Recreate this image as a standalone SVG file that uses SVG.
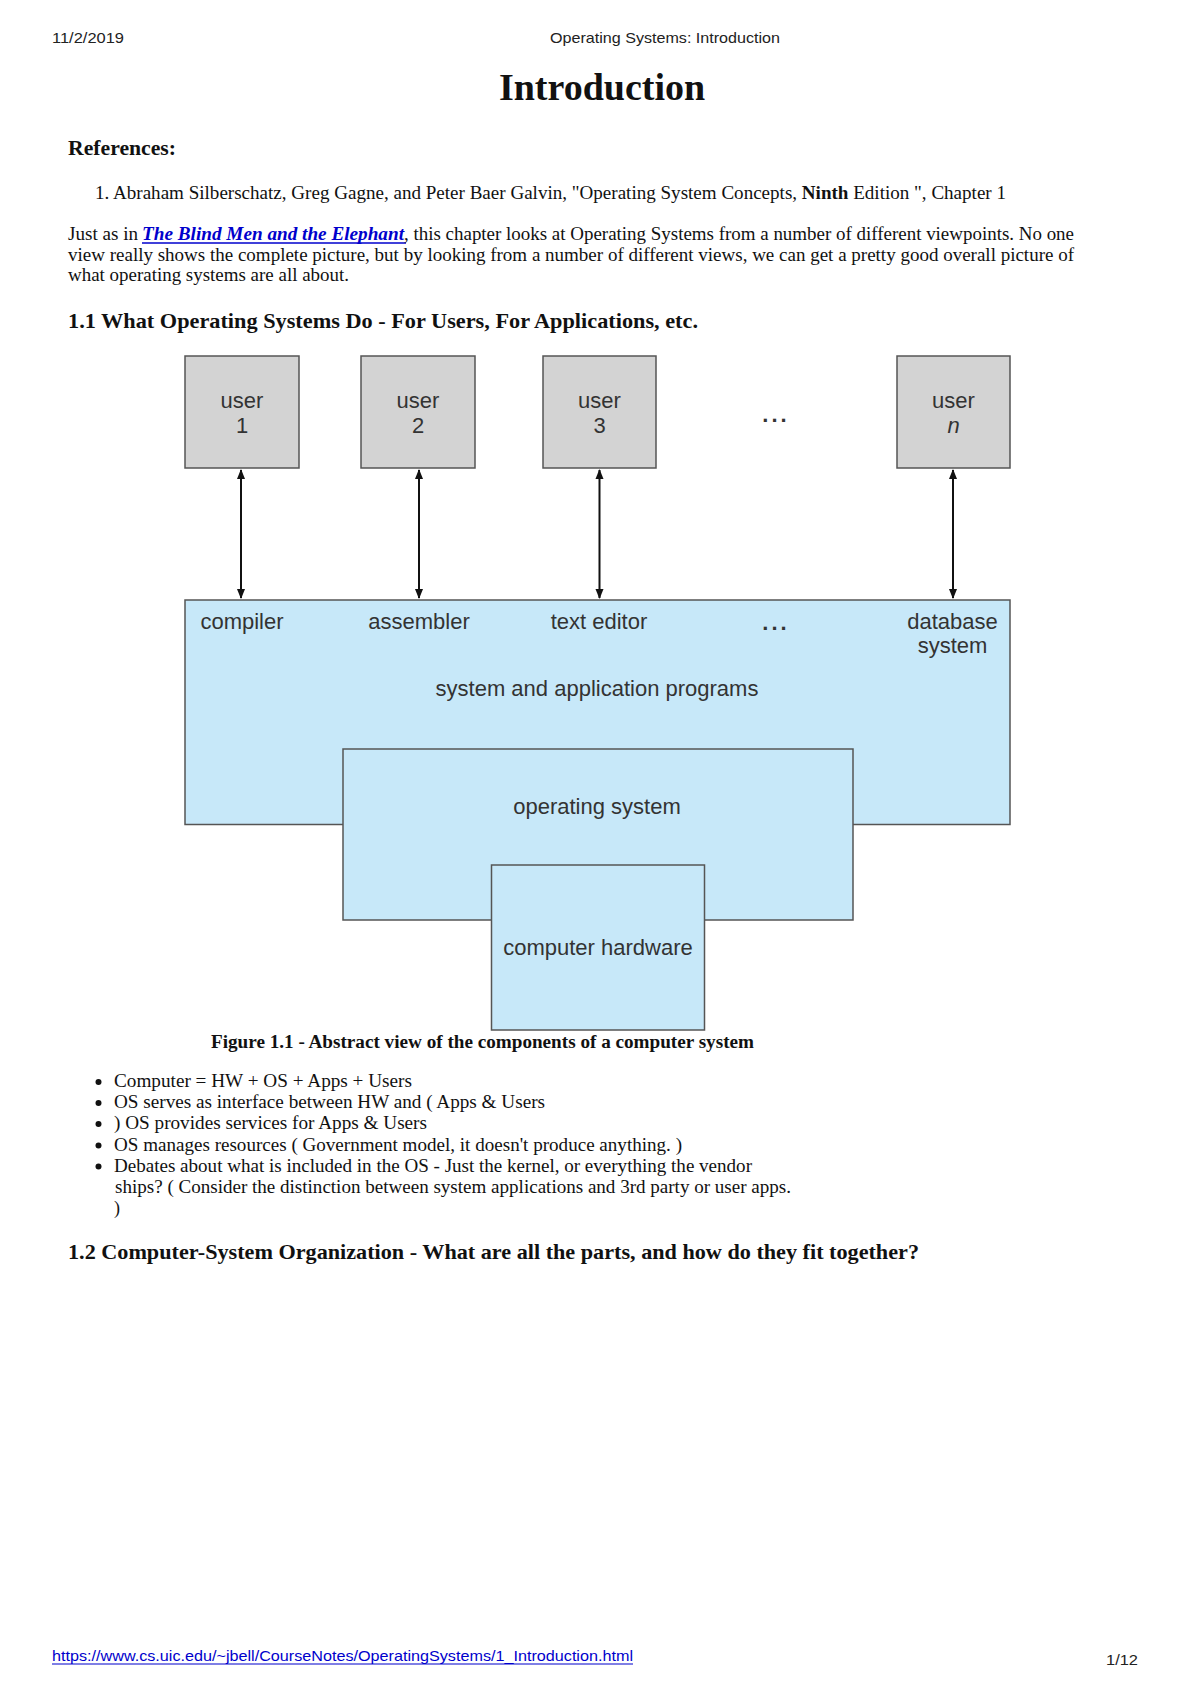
<svg xmlns="http://www.w3.org/2000/svg" width="1200" height="1698" viewBox="0 0 1200 1698">
<defs>
<style>
.hdr{font-family:"Liberation Sans",Arial,sans-serif;font-size:15px;fill:#222}
.serif{font-family:"Liberation Serif","Times New Roman",serif;fill:#111}
.body{font-size:18px}
.bold{font-weight:bold}
.fig{font-family:"Liberation Sans",Arial,sans-serif;font-size:22px;fill:#333;text-anchor:middle}
.user{fill:#d3d3d3;stroke:#555;stroke-width:1.5}
.blue{fill:#c7e8f9;stroke:#555;stroke-width:1.5}
.conn{stroke:#111;stroke-width:2;fill:none;marker-start:url(#ah);marker-end:url(#ah)}
.link{fill:#0000cc}
</style>
<marker id="ah" viewBox="0 0 10 10" refX="9" refY="5" markerWidth="5" markerHeight="5" orient="auto-start-reverse" markerUnits="strokeWidth">
<path d="M0,1 L10,5 L0,9 Z" fill="#111"/>
</marker>
</defs>
<rect width="1200" height="1698" fill="#fff"/>

<g id="page-header">
<text class="hdr" x="52" y="43" textLength="72" lengthAdjust="spacingAndGlyphs">11/2/2019</text>
<text class="hdr" x="550" y="43" textLength="230" lengthAdjust="spacingAndGlyphs">Operating Systems: Introduction</text>
</g>

<g id="title">
<text class="serif bold" x="602" y="100" font-size="38" text-anchor="middle">Introduction</text>
</g>

<g id="references">
<text class="serif bold" x="68" y="155" font-size="20" textLength="108" lengthAdjust="spacingAndGlyphs">References:</text>
<text class="serif body" x="95" y="199" textLength="911" lengthAdjust="spacingAndGlyphs">1. Abraham Silberschatz, Greg Gagne, and Peter Baer Galvin, "Operating System Concepts, <tspan font-weight="bold">Ninth</tspan> Edition ", Chapter 1</text>
</g>

<g id="intro-paragraph">
<text class="serif body" x="68" y="240" textLength="70" lengthAdjust="spacingAndGlyphs">Just as in</text>
<text class="serif body link" x="142" y="240" font-weight="bold" font-style="italic" textLength="262" lengthAdjust="spacingAndGlyphs">The Blind Men and the Elephant</text>
<line x1="142" y1="243" x2="406" y2="243" stroke="#0000cc" stroke-width="1.5"/>
<text class="serif body" x="404" y="240" textLength="670" lengthAdjust="spacingAndGlyphs">, this chapter looks at Operating Systems from a number of different viewpoints. No one</text>
<text class="serif body" x="68" y="261" textLength="1006" lengthAdjust="spacingAndGlyphs">view really shows the complete picture, but by looking from a number of different views, we can get a pretty good overall picture of</text>
<text class="serif body" x="68" y="281" textLength="281" lengthAdjust="spacingAndGlyphs">what operating systems are all about.</text>
</g>

<g id="heading-1-1">
<text class="serif bold" x="68" y="328" font-size="21" textLength="630" lengthAdjust="spacingAndGlyphs">1.1 What Operating Systems Do - For Users, For Applications, etc.</text>
</g>

<g id="connectors">
<line class="conn" x1="241" y1="470" x2="241" y2="598"/>
<line class="conn" x1="419" y1="470" x2="419" y2="598"/>
<line class="conn" x1="599.5" y1="470" x2="599.5" y2="598"/>
<line class="conn" x1="953" y1="470" x2="953" y2="598"/>
</g>

<g id="user1">
<rect class="user" x="185" y="356" width="114" height="112"/>
<text class="fig" x="242" y="408">user</text>
<text class="fig" x="242" y="433">1</text>
</g>
<g id="user2">
<rect class="user" x="361" y="356" width="114" height="112"/>
<text class="fig" x="418" y="408">user</text>
<text class="fig" x="418" y="433">2</text>
</g>
<g id="user3">
<rect class="user" x="543" y="356" width="113" height="112"/>
<text class="fig" x="599.5" y="408">user</text>
<text class="fig" x="599.5" y="433">3</text>
</g>
<g id="user-dots">
<text class="fig" x="776" y="422" font-weight="bold" letter-spacing="3">...</text>
</g>
<g id="usern">
<rect class="user" x="897" y="356" width="113" height="112"/>
<text class="fig" x="953.5" y="408">user</text>
<text class="fig" x="953.5" y="433" font-style="italic">n</text>
</g>

<g id="system-application-programs">
<rect class="blue" x="185" y="600" width="825" height="224.5"/>
<text class="fig" x="242" y="629">compiler</text>
<text class="fig" x="419" y="629">assembler</text>
<text class="fig" x="599" y="629">text editor</text>
<text class="fig" x="776" y="630" font-weight="bold" letter-spacing="3">...</text>
<text class="fig" x="952.5" y="629">database</text>
<text class="fig" x="952.5" y="653">system</text>
<text class="fig" x="597" y="696">system and application programs</text>
</g>

<g id="operating-system">
<rect class="blue" x="343" y="749" width="510" height="171"/>
<text class="fig" x="597" y="814">operating system</text>
</g>

<g id="computer-hardware">
<rect class="blue" x="491.5" y="865" width="213" height="165"/>
<text class="fig" x="598" y="955">computer hardware</text>
</g>

<g id="caption">
<text class="serif bold" x="211" y="1048" font-size="18" textLength="543" lengthAdjust="spacingAndGlyphs">Figure 1.1 - Abstract view of the components of a computer system</text>
</g>

<g id="bullets">
<circle cx="98.5" cy="1082" r="3" fill="#111"/>
<text class="serif body" x="114" y="1087" textLength="298" lengthAdjust="spacingAndGlyphs">Computer = HW + OS + Apps + Users</text>
<circle cx="98.5" cy="1103" r="3" fill="#111"/>
<text class="serif body" x="114" y="1108" textLength="431" lengthAdjust="spacingAndGlyphs">OS serves as interface between HW and ( Apps &amp; Users</text>
<circle cx="98.5" cy="1124" r="3" fill="#111"/>
<text class="serif body" x="114" y="1129" textLength="313" lengthAdjust="spacingAndGlyphs">) OS provides services for Apps &amp; Users</text>
<circle cx="98.5" cy="1145.5" r="3" fill="#111"/>
<text class="serif body" x="114" y="1150.5" textLength="568" lengthAdjust="spacingAndGlyphs">OS manages resources ( Government model, it doesn't produce anything. )</text>
<circle cx="98.5" cy="1166.5" r="3" fill="#111"/>
<text class="serif body" x="114" y="1171.5" textLength="638" lengthAdjust="spacingAndGlyphs">Debates about what is included in the OS - Just the kernel, or everything the vendor</text>
<text class="serif body" x="115" y="1193" textLength="676" lengthAdjust="spacingAndGlyphs">ships? ( Consider the distinction between system applications and 3rd party or user apps.</text>
<text class="serif body" x="114" y="1214">)</text>
</g>

<g id="heading-1-2">
<text class="serif bold" x="68" y="1259" font-size="21" textLength="851" lengthAdjust="spacingAndGlyphs">1.2 Computer-System Organization - What are all the parts, and how do they fit together?</text>
</g>

<g id="page-footer">
<text class="hdr link" x="52" y="1661" textLength="581" lengthAdjust="spacingAndGlyphs">https://www.cs.uic.edu/~jbell/CourseNotes/OperatingSystems/1_Introduction.html</text>
<line x1="52" y1="1664" x2="633" y2="1664" stroke="#0000cc" stroke-width="1.2"/>
<text class="hdr" x="1106" y="1665" textLength="32" lengthAdjust="spacingAndGlyphs">1/12</text>
</g>
</svg>
